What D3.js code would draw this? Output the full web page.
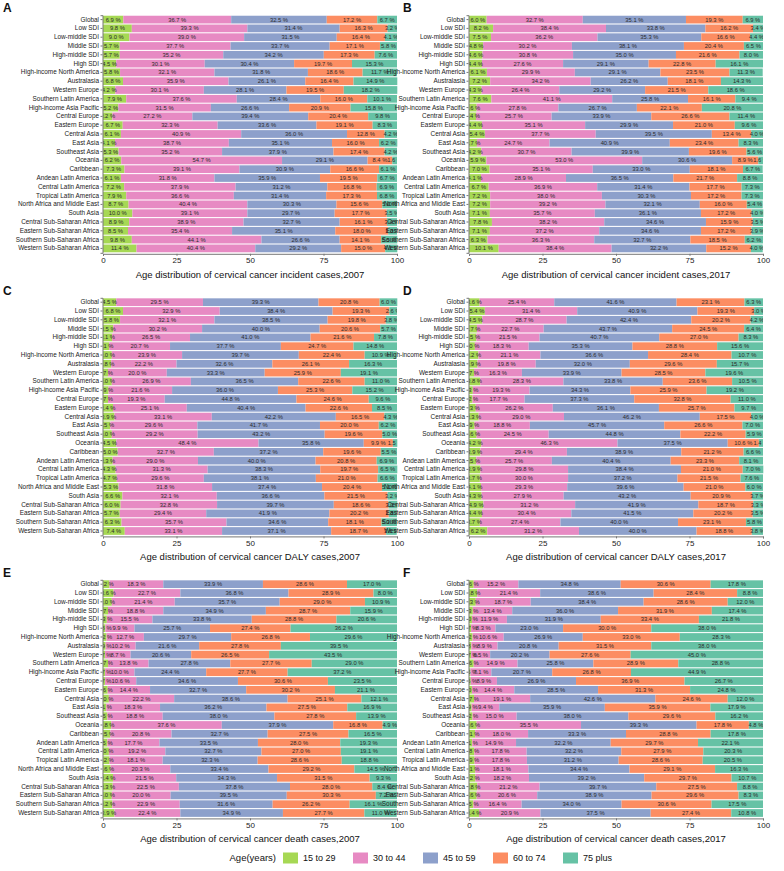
<!DOCTYPE html>
<html><head><meta charset="utf-8">
<script src="https://cdn.jsdelivr.net/npm/d3@7"></script>
<style>body{margin:0;background:#fff}svg text{font-family:Arial,"Liberation Sans",sans-serif}</style>
</head><body><svg id="c" width="784" height="871"></svg>
<script>
const regions = ["Global","Low SDI","Low-middle SDI","Middle SDI","High-middle SDI","High SDI","High-income North America","Australasia","Western Europe","Southern Latin America","High-income Asia Pacific","Central Europe","Eastern Europe","Central Asia","East Asia","Southeast Asia","Oceania","Caribbean","Andean Latin America","Central Latin America","Tropical Latin America","North Africa and Middle East","South Asia","Central Sub-Saharan Africa","Eastern Sub-Saharan Africa","Southern Sub-Saharan Africa","Western Sub-Saharan Africa"];
const ageGroups = ["15 to 29","30 to 44","45 to 59","60 to 74","75 plus"];
const ageColors = ["#a6d854","#e78ac3","#8da0cb","#fc8d62","#66c2a5"];
const xTicks = [0,25,50,75,100];

const incidence2007 = [[6.9,36.7,32.5,17.2,6.7],[9.8,39.3,31.4,16.3,3.2],[9.0,39.0,31.5,16.4,4.1],[5.7,37.7,33.7,17.1,5.8],[5.7,35.2,34.2,17.3,7.6],[4.5,30.1,30.4,19.7,15.3],[5.8,32.1,31.8,18.6,11.7],[6.8,35.9,26.1,16.4,14.9],[4.2,30.1,28.1,19.5,18.2],[7.9,37.6,28.4,16.0,10.1],[5.2,31.5,26.6,20.9,15.8],[3.2,27.2,39.4,20.4,9.8],[6.7,32.3,33.6,19.1,8.3],[6.1,40.9,36.0,12.8,4.2],[4.1,38.7,35.1,16.0,6.2],[5.3,35.2,37.9,17.4,4.2],[6.2,54.7,29.1,8.4,1.6],[7.3,39.1,30.9,16.6,6.1],[6.1,31.8,35.9,19.5,6.7],[7.2,37.9,31.2,16.8,6.9],[7.9,36.6,31.4,17.3,6.8],[8.7,40.4,30.3,15.6,5.0],[10.0,39.1,29.7,17.7,3.5],[8.9,38.9,32.7,16.1,3.4],[8.5,35.4,35.1,18.0,3.0],[9.8,44.1,26.6,14.1,5.5],[11.4,40.4,29.2,15.0,4.1]];
const incidence2017 = [[6.0,32.7,35.1,19.3,6.9],[8.2,38.4,33.8,16.2,3.4],[7.5,36.2,35.3,16.6,4.4],[4.8,30.2,38.1,20.4,6.5],[4.6,30.8,35.0,21.6,8.0],[4.4,27.6,29.1,22.8,16.1],[6.1,29.9,29.1,23.5,11.3],[7.2,34.2,26.2,18.1,14.3],[4.3,26.4,29.2,21.5,18.6],[7.6,41.1,25.8,16.1,9.4],[2.6,27.8,26.7,22.1,20.8],[2.4,25.7,33.9,26.6,11.4],[4.4,35.1,29.9,21.0,9.6],[5.4,37.7,39.5,13.4,4.0],[2.7,24.7,40.9,23.4,8.3],[4.2,30.7,39.9,19.6,5.6],[5.9,53.0,30.6,8.9,1.6],[7.0,35.1,33.0,18.1,6.7],[4.1,28.9,36.5,21.7,8.8],[6.7,36.9,31.4,17.7,7.3],[7.2,38.0,30.3,17.2,7.3],[7.2,39.2,32.1,16.0,5.4],[7.1,35.7,36.1,17.2,4.0],[7.8,38.2,34.6,15.9,3.5],[7.1,37.2,34.6,17.2,3.9],[6.3,36.3,32.7,18.5,6.2],[10.1,38.4,32.2,15.2,4.0]];
const daly2007 = [[4.5,29.5,39.3,20.8,6.0],[6.8,32.9,38.4,19.3,2.6],[5.8,32.1,38.5,19.8,3.8],[3.5,30.2,40.0,20.6,5.7],[3.1,26.5,41.0,21.6,7.8],[2.1,20.7,37.7,24.7,14.8],[3.0,23.9,39.7,22.4,10.9],[2.8,22.2,32.6,26.1,16.3],[1.7,20.0,33.3,25.9,19.1],[3.0,26.9,36.5,22.6,11.0],[1.9,21.6,36.0,25.3,15.2],[1.7,19.3,44.8,24.6,9.6],[3.4,25.1,40.4,22.6,8.5],[3.9,33.1,42.2,16.5,4.3],[2.5,29.6,41.7,20.0,6.2],[3.0,29.2,43.2,19.6,5.0],[4.5,48.4,35.8,9.9,1.5],[5.0,32.7,37.2,19.6,5.5],[3.3,29.0,40.0,20.8,6.9],[4.3,31.3,38.3,19.7,6.5],[4.7,29.6,38.1,21.0,6.6],[5.3,31.8,37.4,20.4,5.1],[6.6,32.1,36.6,21.5,3.2],[6.0,32.8,39.7,18.6,3.0],[5.7,29.4,41.9,20.2,2.8],[6.3,35.7,34.6,18.1,5.3],[7.4,33.1,37.1,18.7,3.6]];
const daly2017 = [[3.6,25.4,41.6,23.1,6.3],[5.4,31.4,40.9,19.3,3.0],[4.5,28.7,42.4,20.2,4.2],[2.7,22.7,43.7,24.5,6.4],[2.5,21.5,40.7,27.0,8.3],[2.0,18.3,35.3,28.8,15.6],[3.2,21.1,36.6,28.4,10.7],[2.9,19.8,32.0,29.6,15.7],[1.7,16.3,33.9,28.5,19.6],[3.8,28.3,33.8,23.6,10.5],[1.3,19.3,34.3,25.9,19.2],[1.2,17.7,37.3,32.8,11.0],[2.3,26.2,36.1,25.7,9.7],[3.3,29.0,46.2,17.5,4.0],[1.9,18.8,45.7,26.6,7.0],[2.6,24.5,44.8,22.2,5.9],[4.2,46.3,37.5,10.6,1.4],[3.9,29.4,38.9,21.2,6.6],[2.5,25.7,40.4,23.3,8.1],[3.9,29.8,38.4,21.0,7.0],[3.7,30.0,37.2,21.5,7.6],[4.1,29.3,39.6,21.0,6.0],[4.3,27.9,43.2,20.9,3.7],[4.9,31.2,41.9,18.7,3.3],[4.4,30.4,41.5,20.2,3.5],[3.7,27.4,40.0,23.1,5.8],[6.2,31.2,40.0,18.8,3.8]];
const death2007 = [[2.2,18.3,33.9,28.6,17.0],[3.6,22.7,36.8,28.9,8.0],[3.0,21.4,35.7,29.0,10.9],[1.7,18.8,34.9,28.7,15.9],[1.3,15.5,33.8,28.8,20.6],[0.8,9.9,25.7,27.4,36.2],[1.2,12.7,29.7,26.8,29.6],[0.9,10.2,21.6,27.8,39.5],[0.7,8.7,20.6,26.5,43.5],[1.7,13.8,27.8,27.7,29.0],[0.7,10.0,24.4,27.7,37.2],[0.7,10.6,34.6,30.6,23.5],[1.6,14.4,32.7,30.2,21.1],[2.0,22.2,38.6,25.1,12.1],[1.1,18.3,36.2,27.5,16.9],[1.5,18.8,38.0,27.8,13.9],[2.8,37.6,37.9,16.8,4.9],[2.5,20.8,32.7,27.5,16.5],[1.5,17.7,33.5,28.0,19.3],[2.0,19.2,32.7,27.0,19.1],[2.2,18.1,32.3,28.6,18.8],[2.6,20.3,33.4,29.2,14.5],[3.4,21.5,34.3,31.5,9.3],[3.3,22.5,37.8,28.0,8.4],[3.0,20.0,39.5,30.3,7.2],[3.2,22.9,31.6,26.2,16.1],[3.9,22.4,34.9,27.7,11.0]];
const death2017 = [[1.6,15.2,34.8,30.6,17.8],[2.8,21.4,38.6,28.4,8.8],[2.3,18.7,38.4,28.6,12.0],[1.3,13.4,36.0,31.9,17.4],[1.0,11.9,31.9,33.4,21.8],[0.7,8.3,23.0,30.0,38.0],[1.2,10.6,26.9,33.0,28.3],[0.8,8.9,20.8,31.5,38.0],[0.7,6.5,20.2,27.6,45.0],[1.6,14.9,25.8,28.9,28.8],[0.5,7.1,20.7,26.8,44.9],[0.6,8.9,26.9,36.9,26.7],[1.0,14.4,28.5,31.3,24.8],[1.7,19.1,42.6,24.6,12.0],[0.9,9.4,35.9,35.9,17.9],[1.2,15.0,38.0,29.6,16.2],[2.6,35.5,39.3,17.8,4.8],[2.1,18.0,33.3,28.8,17.8],[1.1,14.9,32.2,29.7,22.1],[1.8,17.8,32.2,27.9,20.3],[1.9,17.8,31.2,28.6,20.5],[2.1,18.1,34.4,29.1,16.3],[2.2,18.2,39.2,29.7,10.7],[2.8,21.2,39.7,27.5,8.8],[2.6,20.6,38.9,29.6,8.3],[1.5,16.4,34.0,30.6,17.5],[3.4,20.9,37.5,27.4,10.8]];

const panels = [
  {letter:"A", data:incidence2007, title:"Age distribution of cervical cancer incident cases,2007", col:0, row:0},
  {letter:"B", data:incidence2017, title:"Age distribution of cervical cancer incident cases,2017", col:1, row:0},
  {letter:"C", data:daly2007, title:"Age distribution of cervical cancer DALY cases,2007", col:0, row:1},
  {letter:"D", data:daly2017, title:"Age distribution of cervical cancer DALY cases,2017", col:1, row:1},
  {letter:"E", data:death2007, title:"Age distribution of cervical cancer death cases,2007", col:0, row:2},
  {letter:"F", data:death2017, title:"Age distribution of cervical cancer death cases,2017", col:1, row:2}
];

const svg = d3.select("#c");
const colX = [[103,397],[469,763]];
const letterX = [3,403];
const rowTop = [15.2, 297.8, 579.8];
const bandStep = 8.8;
const fmt = d3.format(".1f");

panels.forEach((p,pi)=>{
  const [x0,x1] = colX[p.col];
  const top = rowTop[p.row];
  const h = bandStep*regions.length;
  const g = svg.append("g");
  const x = d3.scaleLinear().domain([0,100]).range([x0,x1]);
  const y = d3.scaleBand().domain(regions).range([top, top+h]).paddingInner(0.12).paddingOuter(0.06);
  const stackData = p.data.map((vals,i)=>{const o={region:regions[i]}; vals.forEach((v,j)=>o[ageGroups[j]]=v); return o;});
  const series = d3.stack().keys(ageGroups)(stackData);
  const clipId = "clip"+pi;
  g.append("clipPath").attr("id",clipId).append("rect").attr("x",x0).attr("y",top).attr("width",x1-x0).attr("height",h);
  const sg = g.selectAll("g.s").data(series).join("g").attr("fill",(d,i)=>ageColors[i]);
  sg.selectAll("rect").data(d=>d).join("rect")
    .attr("x",d=>x(d[0])).attr("width",d=>x(d[1])-x(d[0]))
    .attr("y",d=>y(d.data.region)).attr("height",y.bandwidth());
  const lg = g.append("g").attr("clip-path",`url(#${clipId})`);
  series.forEach(s=>{
    lg.selectAll(null).data(s).join("text")
      .attr("x",d=>x((d[0]+d[1])/2)).attr("y",d=>y(d.data.region)+y.bandwidth()/2)
      .attr("dy","0.35em").attr("text-anchor","middle").attr("font-size",5.8).attr("fill","#2b2b2b")
      .text(d=>fmt(d[1]-d[0])+" %");
  });
  const ya = g.append("g").attr("transform",`translate(${x0-0.5},0)`).call(d3.axisLeft(y).tickSize(2).tickPadding(1.5));
  ya.select(".domain").attr("stroke","#777");
  ya.selectAll(".tick line").attr("stroke","#777");
  ya.selectAll("text").attr("font-size",6.4).attr("fill","#222");
  const xa = g.append("g").attr("transform",`translate(0,${top+h+1})`).call(d3.axisBottom(x).tickValues(xTicks).tickSize(2).tickPadding(2));
  xa.select(".domain").attr("stroke","#777");
  xa.selectAll(".tick line").attr("stroke","#777");
  xa.selectAll("text").attr("font-size",8).attr("fill","#222");
  g.append("text").attr("x",(x0+x1)/2).attr("y",top+h+25).attr("text-anchor","middle").attr("font-size",9.5).attr("fill","#111").text(p.title);
  g.append("text").attr("x",letterX[p.col]).attr("y",top-3).attr("font-size",12).attr("font-weight","bold").attr("fill","#111").text(p.letter);
});

const leg = svg.append("g").attr("transform","translate(0,858)");
leg.append("text").attr("x",276).attr("y",0).attr("dy","0.35em").attr("text-anchor","end").attr("font-size",9.5).attr("fill","#111").text("Age(years)");
const lx = d3.scalePoint().domain(ageGroups).range([283,563]);
ageGroups.forEach((a,i)=>{
  leg.append("rect").attr("x",lx(a)).attr("y",-5.5).attr("width",15).attr("height",11).attr("fill",ageColors[i]);
  leg.append("text").attr("x",lx(a)+20).attr("y",0).attr("dy","0.35em").attr("font-size",9).attr("fill","#111").text(a);
});
</script></body></html>
